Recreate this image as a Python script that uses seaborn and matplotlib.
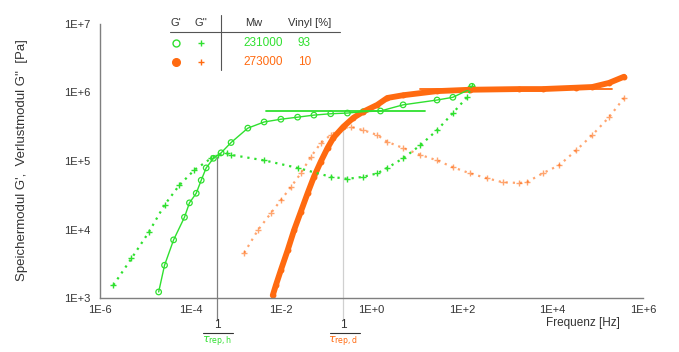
import numpy as np
import pandas as pd
import matplotlib
matplotlib.use("Agg")
import matplotlib.pyplot as plt
import matplotlib.ticker as mticker
from matplotlib.lines import Line2D
import seaborn as sns

# values, as log10(frequency [Hz]) and log10(modulus [Pa])
green_gp_logf = [-4.70, -4.57, -4.37, -4.13, -4.02, -3.87, -3.76, -3.65, -3.49, -3.32, -3.10,
                 -2.73, -2.37, -2.00, -1.63, -1.27, -0.90, -0.53, -0.18, 0.20, 0.70, 1.45, 1.80, 2.18, 2.22]
green_gp_logg = [3.09, 3.48, 3.85, 4.18, 4.39, 4.53, 4.72, 4.90, 5.04, 5.12, 5.27,
                 5.48, 5.57, 5.61, 5.64, 5.67, 5.69, 5.70, 5.72, 5.73, 5.82, 5.89, 5.93, 6.05, 6.09]

green_gpp_logf = [-5.70, -5.30, -4.92, -4.57, -4.24, -3.91, -3.54, -3.38, -3.20, -3.10, -2.37,
                  -1.63, -0.90, -0.53, -0.18, 0.13, 0.35, 0.70, 1.08, 1.45, 1.80, 2.11, 2.22]
green_gpp_logg = [3.19, 3.58, 3.96, 4.36, 4.65, 4.87, 5.04, 5.09, 5.11, 5.09, 5.01,
                  4.90, 4.77, 4.74, 4.77, 4.82, 4.90, 5.04, 5.23, 5.45, 5.70, 5.93, 6.09]

orange_gp_logf = [-2.18, -2.11, -2.00, -1.85, -1.71, -1.56, -1.41, -1.27, -1.12, -0.97, -0.84,
                  -0.62, -0.40, -0.18, 0.13, 0.35, 0.70, 1.45, 2.18, 3.27, 3.78, 4.53, 4.88, 5.25, 5.58]
orange_gp_logg = [3.04, 3.19, 3.41, 3.70, 3.99, 4.26, 4.53, 4.77, 4.99, 5.19, 5.34,
                  5.50, 5.63, 5.72, 5.82, 5.92, 5.96, 6.02, 6.04, 6.05, 6.05, 6.07, 6.08, 6.14, 6.23]

orange_gpp_logf = [-2.81, -2.51, -2.22, -2.00, -1.78, -1.56, -1.34, -1.12, -0.90, -0.68, -0.46,
                   -0.18, 0.13, 0.35, 0.70, 1.08, 1.45, 1.80, 2.18, 2.55, 2.90, 3.27, 3.43,
                   3.78, 4.15, 4.53, 4.88, 5.25, 5.58]
orange_gpp_logg = [3.66, 3.99, 4.24, 4.43, 4.62, 4.82, 5.06, 5.26, 5.38, 5.47, 5.50,
                   5.45, 5.38, 5.28, 5.19, 5.09, 5.01, 4.91, 4.82, 4.75, 4.69, 4.68, 4.69,
                   4.82, 4.94, 5.16, 5.38, 5.64, 5.92]

# plateau lines (log f start, log f end, log G)
plateau_green = [-2.33, 1.19, 5.73]
plateau_orange = [1.08, 5.32, 6.05]

# crossover points 1/tau_rep (log f, log G)
cross_green = [-3.41, 5.06]
cross_orange = [-0.62, 5.50]

legend_mw = ["231000", "273000"]
legend_vinyl = ["93", "10"]

GREEN = "#2fe02f"
ORANGE = "#ff6a10"
GREY = "#7f7f7f"


def to_df(logf, logg):
    return pd.DataFrame({"f": 10 ** np.array(logf), "g": 10 ** np.array(logg)})


sns.set_style("white")
plt.rcParams["font.family"] = ["Liberation Sans", "DejaVu Sans"]

fig = plt.figure(figsize=(6.79, 3.52), dpi=100)
ax = fig.add_axes([0.147, 0.153, 0.800, 0.779])

g_gp = to_df(green_gp_logf, green_gp_logg)
g_gpp = to_df(green_gpp_logf, green_gpp_logg)
o_gp = to_df(orange_gp_logf, orange_gp_logg)
o_gpp = to_df(orange_gpp_logf, orange_gpp_logg)

# connecting trails (the original has very dense markers)
sns.lineplot(data=o_gp, x="f", y="g", sort=False, estimator=None, color=ORANGE, lw=4.2, ax=ax)
sns.lineplot(data=g_gp, x="f", y="g", sort=False, estimator=None, color=GREEN, lw=1.0, ax=ax)
sns.lineplot(data=g_gpp, x="f", y="g", sort=False, estimator=None, color=GREEN, lw=1.6,
             linestyle=(0, (1, 2.2)), ax=ax)
sns.lineplot(data=o_gpp, x="f", y="g", sort=False, estimator=None, color=ORANGE, lw=1.6,
             linestyle=(0, (1, 2.2)), alpha=0.6, ax=ax)

# markers
sns.scatterplot(data=g_gp, x="f", y="g", marker="o", s=16, facecolors="none",
                edgecolor=GREEN, linewidth=0.9, ax=ax)
sns.scatterplot(data=g_gpp, x="f", y="g", marker="+", s=14, color=GREEN, linewidth=1.0, ax=ax)
sns.scatterplot(data=o_gp, x="f", y="g", marker="o", s=18, color=ORANGE, edgecolor=ORANGE,
                linewidth=0, ax=ax)
sns.scatterplot(data=o_gpp, x="f", y="g", marker="+", s=14, color=ORANGE, linewidth=1.0,
                alpha=0.6, ax=ax)

# plateau lines
ax.plot(10 ** np.array(plateau_green[:2]), [10 ** plateau_green[2]] * 2, color=GREEN, lw=1.3)
ax.plot(10 ** np.array(plateau_orange[:2]), [10 ** plateau_orange[2]] * 2, color=ORANGE, lw=1.3)

ax.set_xscale("log")
ax.set_yscale("log")
ax.set_xlim(1e-6, 1e6)
ax.set_ylim(1e3, 1e7)
ax.set_xticks([10.0 ** k for k in range(-6, 7, 2)])
ax.set_yticks([10.0 ** k for k in range(3, 8)])
ax.xaxis.set_minor_locator(mticker.NullLocator())
ax.yaxis.set_minor_locator(mticker.NullLocator())
fmt = mticker.FuncFormatter(lambda v, p: f"1E{int(round(np.log10(v))):+d}")
ax.xaxis.set_major_formatter(fmt)
ax.yaxis.set_major_formatter(fmt)
ax.tick_params(axis="x", direction="in", length=3, color=GREY, labelsize=8, labelcolor="#333333", pad=5)
ax.tick_params(axis="y", direction="out", length=3, color=GREY, labelsize=8, labelcolor="#333333", pad=4)
sns.despine(ax=ax)
for s in ["left", "bottom"]:
    ax.spines[s].set_color(GREY)
    ax.spines[s].set_linewidth(1.0)

ax.set_xlabel("")
ax.set_ylabel("")
fig.text(0.032, 0.545, "Speichermodul G',  Verlustmodul G''  [Pa]", rotation=90,
         ha="center", va="center", fontsize=9.5, color="#333333")
fig.text(0.859, 0.083, "Frequenz [Hz]", ha="center", va="center", fontsize=8.5, color="#333333")

# 1/tau_rep markers below the axis
ylow = 10 ** 2.68
trans = matplotlib.transforms.blended_transform_factory(ax.transData, ax.transAxes)
for (cx, cy), col, lcol, sub in [(cross_green, GREEN, "#808080", "rep,h"),
                                 (cross_orange, ORANGE, "#d0d0d0", "rep,d")]:
    ax.plot([10 ** cx, 10 ** cx], [ylow, 10 ** cy], color=lcol, lw=0.9, clip_on=False, zorder=0)
    ax.text(10 ** cx, -0.099, "1", transform=trans, ha="center", va="center", fontsize=8.5,
            color="#333333", clip_on=False)
    ax.plot([10 ** (cx - 0.3), 10 ** (cx + 0.36)], [-0.126, -0.126], transform=trans,
            color="#333333", lw=0.8, clip_on=False)
    ax.text(10 ** cx, -0.186, r"$\tau_{\mathrm{" + sub + "}}$", transform=trans, ha="center",
            va="bottom", fontsize=8, color=col, clip_on=False)

# legend table
hy, r1, r2 = 0.935, 0.878, 0.824
for x, t in [(0.259, "G'"), (0.296, "G''"), (0.374, "Mw"), (0.456, "Vinyl [%]")]:
    fig.text(x, hy, t, ha="center", va="center", fontsize=8, color="#333333")
fig.add_artist(Line2D([0.250, 0.501], [0.909, 0.909], color="#555555", lw=0.8))
fig.add_artist(Line2D([0.325, 0.325], [0.957, 0.801], color="#555555", lw=0.8))
fig.add_artist(Line2D([0.259], [r1], marker="o", markersize=5, markerfacecolor="none",
                      markeredgecolor=GREEN, lw=0))
fig.add_artist(Line2D([0.296], [r1], marker="+", markersize=5, color=GREEN, lw=0))
fig.add_artist(Line2D([0.259], [r2], marker="o", markersize=5.5, color=ORANGE, lw=0))
fig.add_artist(Line2D([0.296], [r2], marker="+", markersize=5, color=ORANGE, lw=0))
for y, col, mw, vi in [(r1, GREEN, legend_mw[0], legend_vinyl[0]),
                       (r2, ORANGE, legend_mw[1], legend_vinyl[1])]:
    fig.text(0.388, y, mw, ha="center", va="center", fontsize=8.5, color=col)
    fig.text(0.448, y, vi, ha="center", va="center", fontsize=8.5, color=col)

fig.savefig("out.png", dpi=100)
